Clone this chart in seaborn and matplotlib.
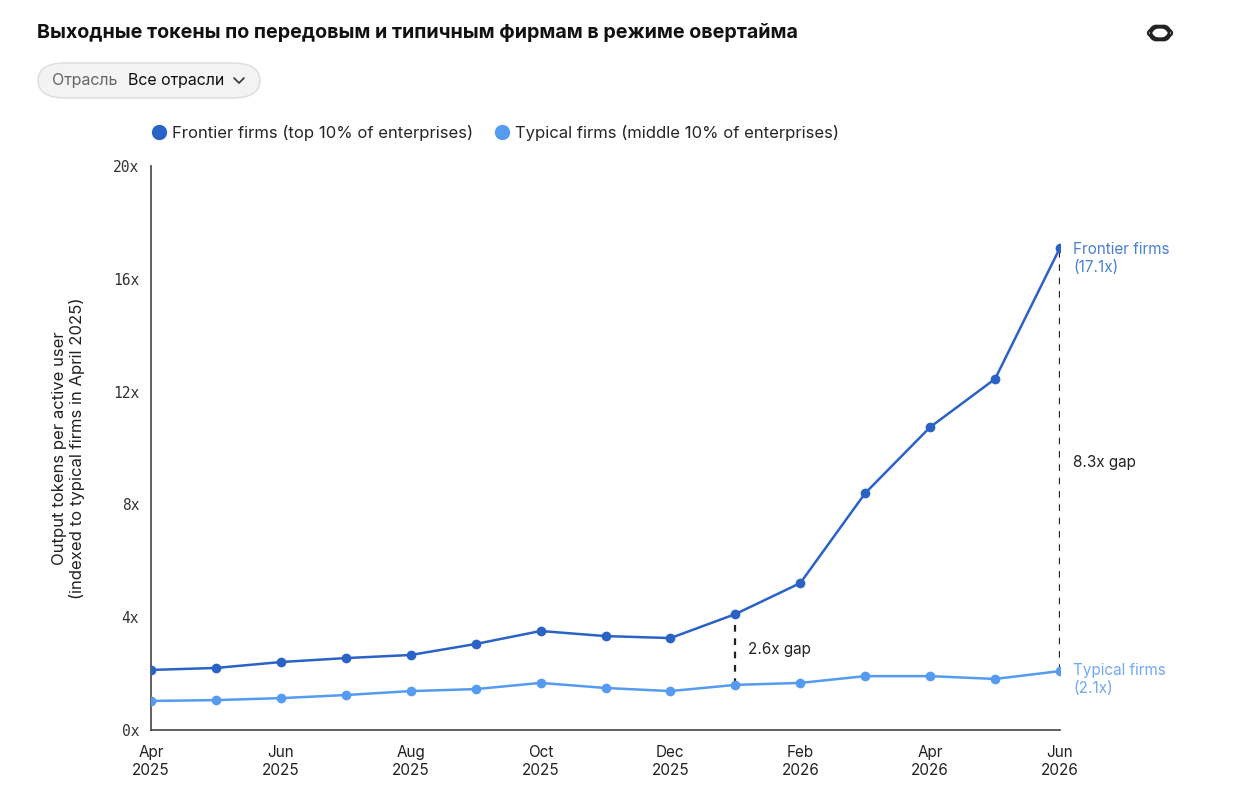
import numpy as np
import pandas as pd
import matplotlib.pyplot as plt
import seaborn as sns
from matplotlib.lines import Line2D
from matplotlib.patches import FancyBboxPatch, Ellipse

months = ["Apr 2025", "May 2025", "Jun 2025", "Jul 2025", "Aug 2025", "Sep 2025", "Oct 2025",
          "Nov 2025", "Dec 2025", "Jan 2026", "Feb 2026", "Mar 2026", "Apr 2026", "May 2026", "Jun 2026"]
frontier = [2.13, 2.2, 2.41, 2.55, 2.66, 3.05, 3.51, 3.33, 3.26, 4.11, 5.21, 8.4, 10.74, 12.45, 17.1]
typical = [1.03, 1.06, 1.13, 1.24, 1.38, 1.45, 1.67, 1.49, 1.38, 1.6, 1.67, 1.91, 1.91, 1.81, 2.09]
tick_labels = ["Apr\n2025", "Jun\n2025", "Aug\n2025", "Oct\n2025", "Dec\n2025", "Feb\n2026", "Apr\n2026", "Jun\n2026"]
y_ticks = [0, 4, 8, 12, 16, 20]

front_name = "Frontier firms (top 10% of enterprises)"
typ_name = "Typical firms (middle 10% of enterprises)"
c_front = "#2a62c5"
c_typ = "#559bf1"

df = pd.DataFrame({
    "month": list(range(len(months))) * 2,
    "value": frontier + typical,
    "series": [front_name] * len(months) + [typ_name] * len(months),
})

sns.set_theme(style="white")
plt.rcParams['font.family'] = ['Inter', 'DejaVu Sans']

fig = plt.figure(figsize=(12.44, 8.11), dpi=100)
ax = fig.add_axes([151 / 1244, 81 / 811, 909 / 1244, 564 / 811])

sns.lineplot(data=df, x="month", y="value", hue="series",
             palette={front_name: c_front, typ_name: c_typ},
             marker="o", markersize=7, markeredgewidth=0, linewidth=1.8,
             legend=False, ax=ax, zorder=3)

ax.set_xlim(0, len(months) - 1)
ax.set_ylim(0, 20)
ax.set_xticks(range(0, len(months), 2))
ax.set_xticklabels(tick_labels, fontsize=11, color="#222222")
ax.set_yticks(y_ticks)
ax.set_yticklabels([f"{t}x" for t in y_ticks], fontsize=10.5, color="#333333", family="DejaVu Sans Mono")
ax.tick_params(axis="both", length=5, width=1, color="#444444", direction="out")
ax.tick_params(axis="x", pad=6)
ax.set_xlabel("")
ax.set_ylabel("Output tokens per active user\n(indexed to typical firms in April 2025)",
              fontsize=12, color="#222222", labelpad=20)
for s in ["top", "right"]:
    ax.spines[s].set_visible(False)
for s in ["left", "bottom"]:
    ax.spines[s].set_color("#444444")
    ax.spines[s].set_linewidth(1.2)

# gap markers
for i, lab, ty in [(9, "2.6x gap", 2.85), (14, "8.3x gap", 9.5)]:
    ax.plot([i, i], [typical[i], frontier[i]], ls=(0, (3, 3)), color="#222222", lw=1.6, zorder=2)
    ax.text(i + 0.2, ty, lab, fontsize=11, color="#222222", va="center", ha="left")

ax.text(14.2, frontier[-1] + 0.22, "Frontier firms\n(17.1x)", fontsize=11, color="#4a7fd6",
        va="top", ha="left", linespacing=1.3, clip_on=False)
ax.text(14.2, typical[-1] + 0.3, "Typical firms\n(2.1x)", fontsize=11, color="#73a8f2",
        va="top", ha="left", linespacing=1.3, clip_on=False)

# header
fig.text(37 / 1244, 1 - 33 / 811, "Выходные токены по передовым и типичным фирмам в режиме овертайма",
         fontsize=14.2, fontweight="bold", color="#111111", va="center", ha="left")
box = FancyBboxPatch((38 / 1244, 1 - 98 / 811), 222 / 1244, 35 / 811,
                     boxstyle="round,pad=0,rounding_size=0.022", transform=fig.transFigure,
                     facecolor="#f3f3f3", edgecolor="#dcdcdc", lw=1)
fig.patches.append(box)
fig.text(52 / 1244, 1 - 80 / 811, "Отрасль", fontsize=11.5, color="#666666", va="center", ha="left")
fig.text(128 / 1244, 1 - 80 / 811, "Все отрасли", fontsize=11.5, color="#111111", va="center", ha="left")
# dropdown chevron
fig.add_artist(Line2D([234 / 1244, 239 / 1244, 244 / 1244], [1 - 78 / 811, 1 - 83 / 811, 1 - 78 / 811],
                      color="#333333", lw=1.2, transform=fig.transFigure))

# logo
for ang in [0, 60, 120]:
    fig.patches.append(Ellipse((1160 / 1244, 1 - 33 / 811), 24 / 1244, 11 / 811, angle=ang,
                               transform=fig.transFigure, fill=False, edgecolor="#222222", lw=1.6))

handles = [Line2D([], [], ls="none", marker="o", markersize=10, color=c_front),
           Line2D([], [], ls="none", marker="o", markersize=10, color=c_typ)]
fig.legend(handles, [front_name, typ_name], loc="center left", bbox_to_anchor=(134 / 1244, 1 - 133 / 811),
           ncol=2, frameon=False, fontsize=12, handletextpad=0.2, columnspacing=1.1, handlelength=1.2)

fig.savefig("out.png", dpi=100)
